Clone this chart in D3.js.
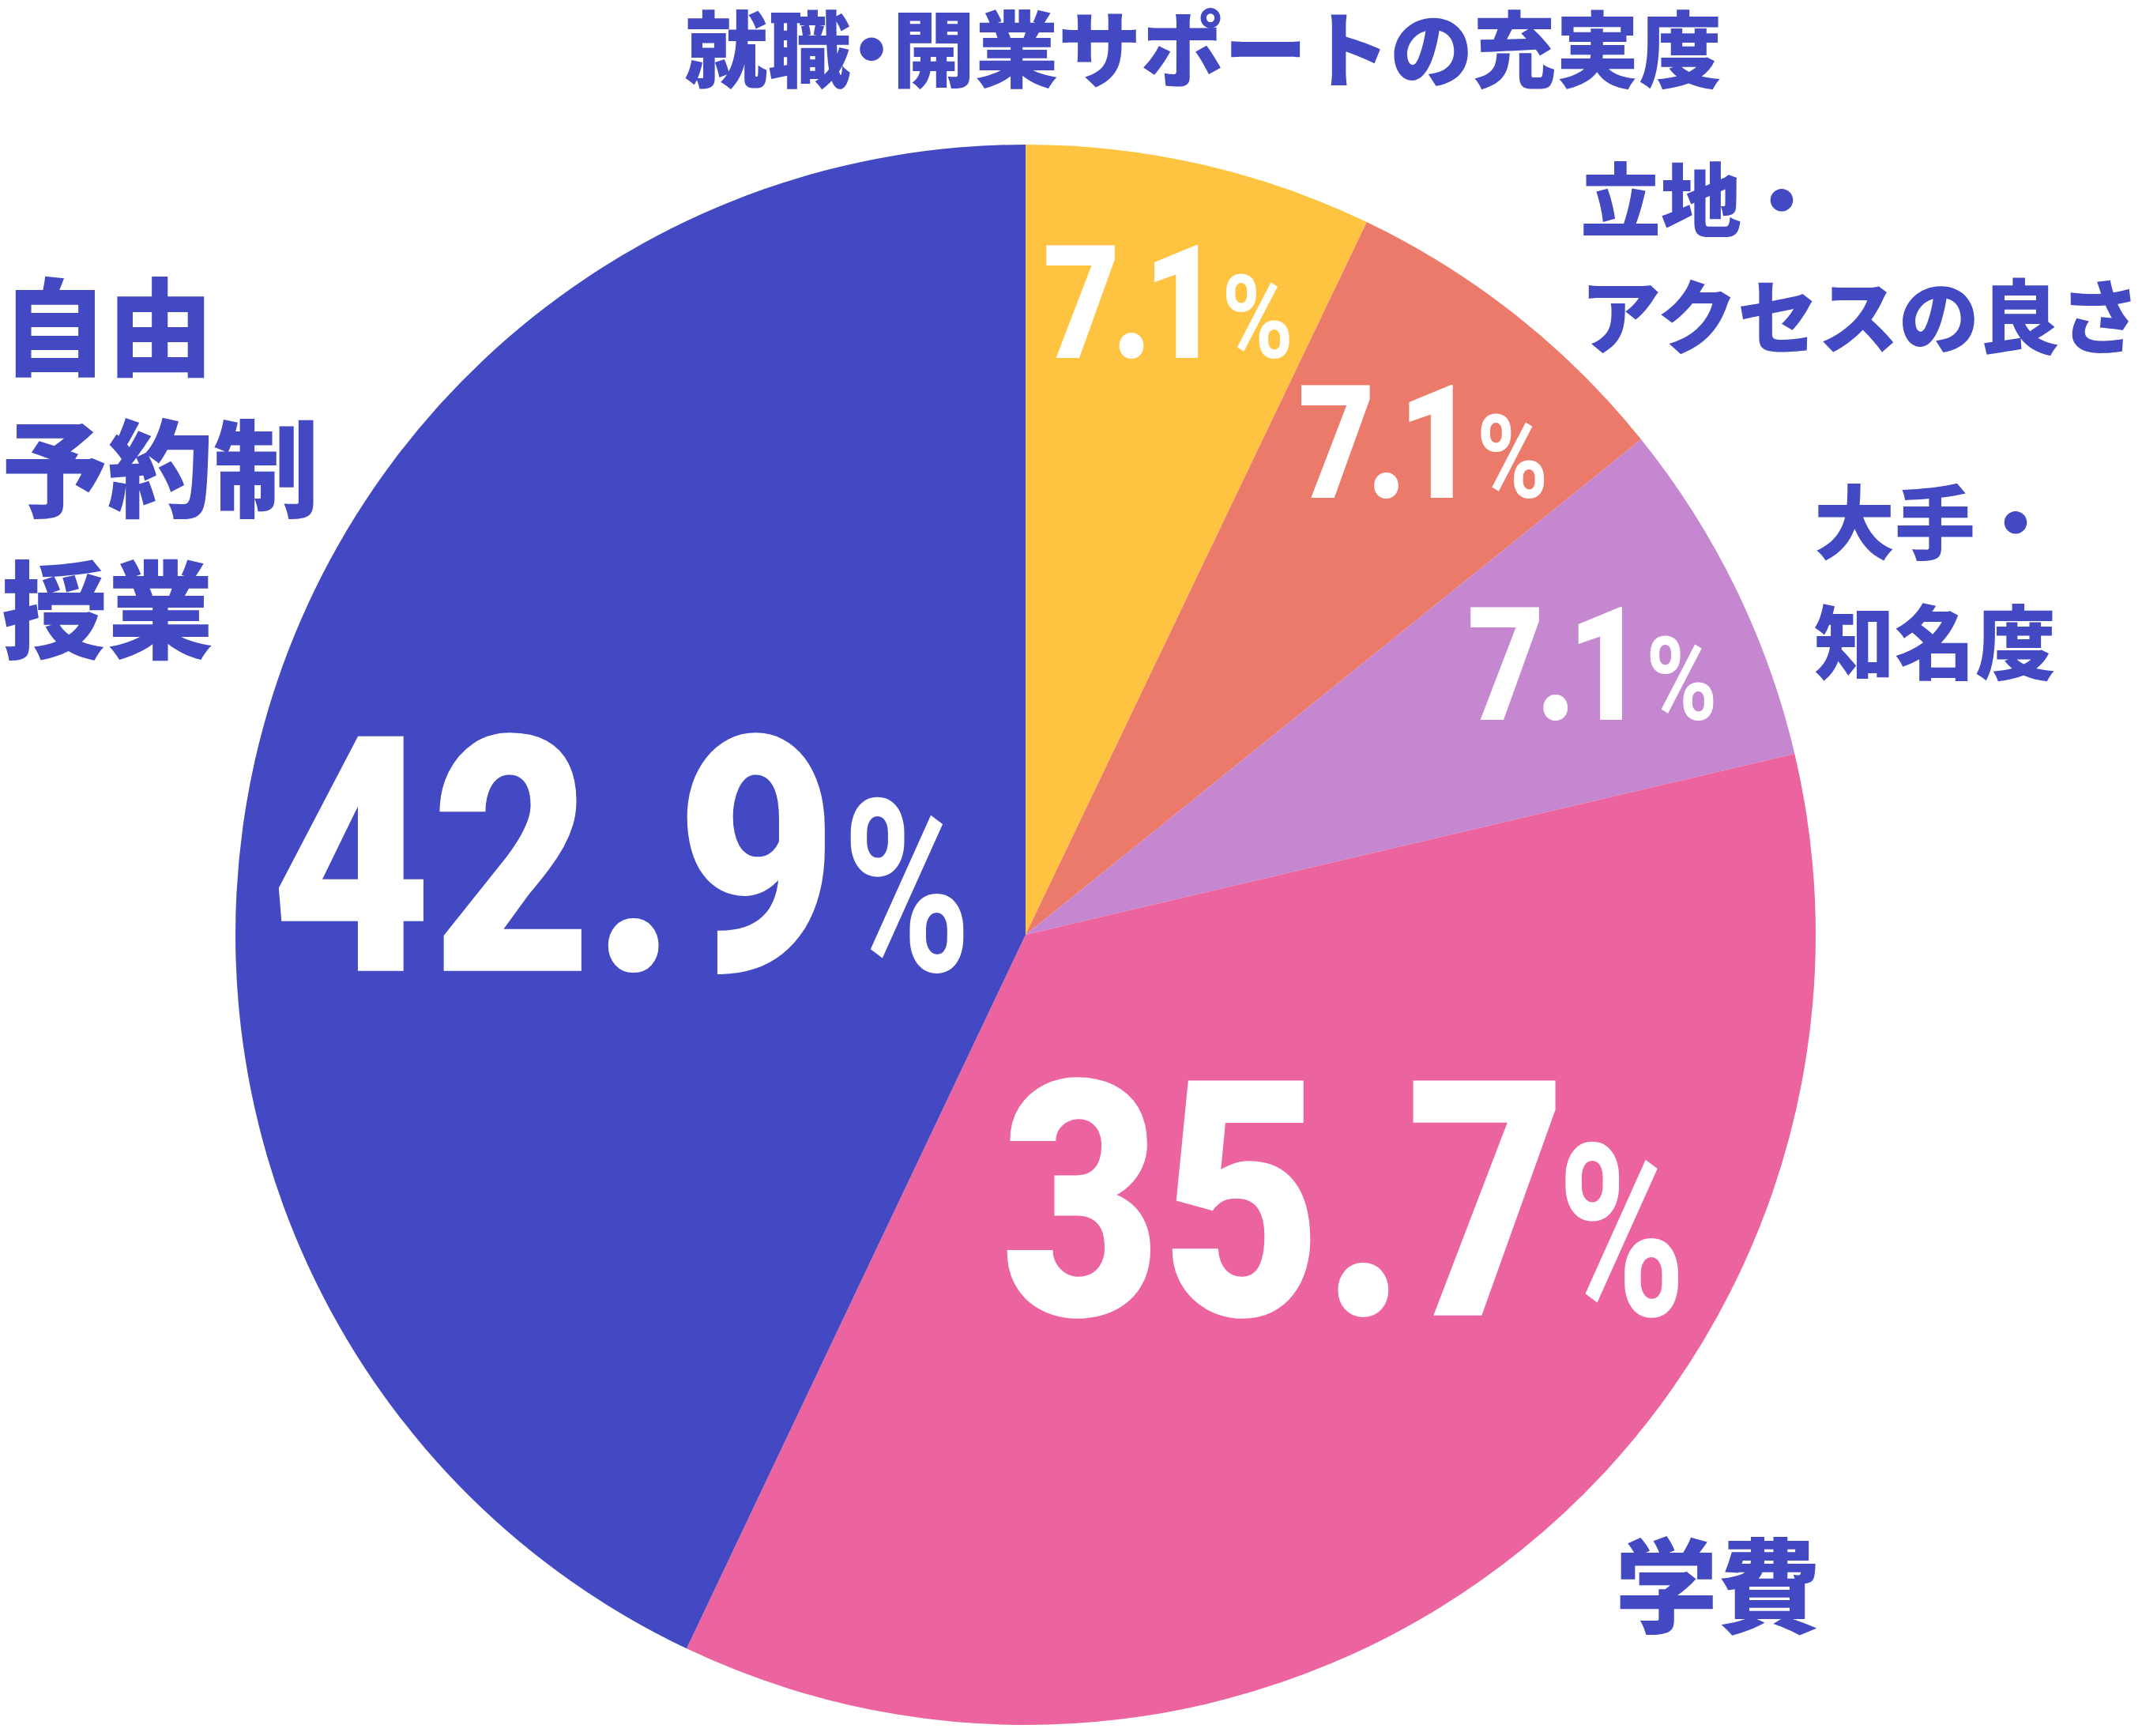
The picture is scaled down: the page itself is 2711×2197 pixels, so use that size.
<!DOCTYPE html>
<html>
<head>
<meta charset="utf-8">
<script src="https://cdn.jsdelivr.net/npm/d3@7"></script>
<style>
  html, body { margin: 0; padding: 0; background: #ffffff; }
  svg { display: block; }
</style>
</head>
<body>
<div id="chart"></div>
<script>
/*****************************************************
 * DATA
 *****************************************************/
const categories = ["就職・開業サポートの充実度", "立地・アクセスの良さ", "大手・知名度", "学費", "自由予約制授業"];
const labelLines = [["就職・開業サポートの充実度"], ["立地・", "アクセスの良さ"], ["大手・", "知名度"], ["学費"], ["自由", "予約制", "授業"]];
const shares = [7.1, 7.1, 7.1, 35.7, 42.9];
const colors = ["#FEC340", "#EC7A6B", "#C588D0", "#EB64A0", "#4249C3"];

/*****************************************************
 * LAYOUT
 *****************************************************/
const width = 2711;
const height = 2197;
const cx = 1298, cy = 1183;
const radius = 1000;
const textBlue = "#4249C3";

// category label anchors, relative to the pie centre
const labelAt = [
  { dx: 225,   dy: -1127, anchor: "middle", size: 105, lead: 148, tight: true },
  { dx: 702,   dy: -862,  anchor: "start",  size: 102, lead: 148 },
  { dx: 998,   dy: -452,  anchor: "start",  size: 102, lead: 152 },
  { dx: 746,   dy: 816,   anchor: "start",  size: 130, lead: 176 },
  { dx: -1296, dy: -597,  anchor: "start",  size: 134, lead: 179 }
];
// small nudges / gaps for the percentage labels
const valueNudge = [[0, -7], [-3, 14], [-15, 14], [74, -73], [-3, 12]];
const valueGap = [12, 12, 12, -12, 7];

const data = shares.map((v, i) => ({ v, i }));

const svg = d3.select("#chart")
  .append("svg")
  .attr("width", width)
  .attr("height", height);

const g = svg.append("g").attr("transform", `translate(${cx},${cy})`);

const pie = d3.pie().sort(null).value(d => d.v);
const arcs = pie(data);
const arc = d3.arc().innerRadius(0).outerRadius(radius);

/*****************************************************
 * SLICES
 *****************************************************/
g.selectAll("path.slice")
  .data(arcs)
  .join("path")
  .attr("class", "slice")
  .attr("d", arc)
  .attr("fill", d => colors[d.data.i]);

/*****************************************************
 * PERCENT LABELS
 *****************************************************/
const smallArc = d3.arc().innerRadius(radius * 0.815).outerRadius(radius * 0.815);
const bigArc = d3.arc().innerRadius(radius * 0.522).outerRadius(radius * 0.522);
const fmt = d3.format(".1f");

arcs.forEach(d => {
  const big = d.data.v > 20;
  const [px, py] = (big ? bigArc : smallArc).centroid(d);
  const nd = valueNudge[d.data.i];
  const fs = big ? 418 : 201;     // number size
  const ps = big ? 305 : 146;     // % size
  const sx = 0.84, sp = big ? 0.72 : 0.84;
  const ls = big ? 0 : -13;
  const gap = valueGap[d.data.i];

  const lab = g.append("g").attr("transform", `translate(${px + nd[0]},${py + nd[1]})`);

  const num = lab.append("text")
    .attr("font-family", "Roboto, 'Liberation Sans', sans-serif")
    .attr("font-weight", 900)
    .attr("font-size", fs)
    .attr("letter-spacing", ls)
    .attr("fill", "#ffffff")
    .attr("transform", `scale(${sx},1)`)
    .text(fmt(d.data.v));

  const pct = lab.append("text")
    .attr("font-family", "Roboto, 'Liberation Sans', sans-serif")
    .attr("font-weight", 700)
    .attr("font-size", ps)
    .attr("fill", "#ffffff")
    .attr("transform", `scale(${sp},1)`)
    .text("%");

  const wNum = num.node().getComputedTextLength() * sx;
  const wPct = pct.node().getComputedTextLength() * sp;
  const total = wNum + gap + wPct;
  const base = fs * 0.711 / 2;

  num.attr("x", (-total / 2) / sx).attr("y", base);
  pct.attr("x", (-total / 2 + wNum + gap) / sp).attr("y", base);
});

/*****************************************************
 * CATEGORY LABELS
 *****************************************************/
labelLines.forEach((lines, i) => {
  const L = labelAt[i];
  const top = L.dy - (lines.length - 1) * L.lead / 2;
  const t = g.append("text")
    .attr("font-family", "'Noto Sans CJK JP', 'Noto Sans CJK SC', sans-serif")
    .attr("font-weight", 900)
    .attr("font-size", L.size)
    .attr("fill", textBlue)
    .attr("text-anchor", L.anchor)
    .attr("dominant-baseline", "central")
    // half-width middle dot in the long title, as in the original
    .style("font-feature-settings", L.tight ? "'halt' 1" : null);
  lines.forEach((line, k) => {
    t.append("tspan")
      .attr("x", L.dx)
      .attr("y", top + k * L.lead)
      .text(line);
  });
});
</script>
</body>
</html>
